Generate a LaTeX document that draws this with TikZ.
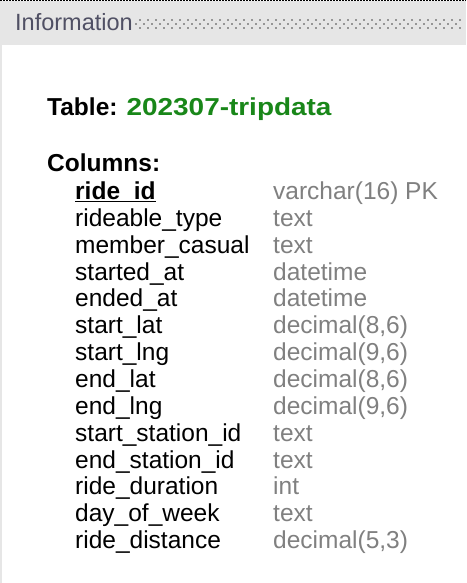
\documentclass[tikz,border=0pt]{standalone}
\usepackage{fontspec}
\setmainfont{Liberation Sans}
\usepackage{tikz}

\definecolor{bandgray}{RGB}{230,230,230}
\definecolor{dotgray}{RGB}{150,150,150}
\definecolor{headtext}{RGB}{80,80,100}
\definecolor{typegray}{RGB}{128,128,128}
\definecolor{tblgreen}{RGB}{25,135,25}

\tikzset{
  txt/.style={inner sep=0pt, anchor=base west, font=\fontsize{24.5}{27}\selectfont},
  colname/.style={txt, text=black},
  coltype/.style={txt, text=typegray},
  hdr/.style={txt, font=\bfseries\fontsize{24.5}{27}\selectfont}
}

\begin{document}
\begin{tikzpicture}[x=1pt,y=1pt,yscale=-1,xscale=1]
\useasboundingbox (0,0) rectangle (466,583);
\fill [white] (0,0) rectangle (466,583);

%Header band
\fill [bandgray] (0,1) rectangle (466,45);
\draw [line width=1, dash pattern=on 2pt off 1pt] (0,0.5) -- (466,0.5);
\draw [bandgray, line width=1.5] (0.75,45) -- (0.75,583);
\node [txt, text=headtext, font=\fontsize{23.5}{26}\selectfont] (info) at (15,31) {Information};

%Dotted grip
\foreach \k in {0,...,40} {
  \fill [dotgray] (139+8*\k,19) rectangle ++(2,2);
  \fill [dotgray] (135+8*\k,23) rectangle ++(2,2);
  \fill [dotgray] (139+8*\k,27) rectangle ++(2,2);
}

%Table name
\node [hdr] (tbl) at (47,115) {Table: \textcolor{tblgreen}{\scalebox{1.14}[1]{202307-tripdata}}};
\node [hdr] (cols) at (47,171) {Columns:};

%Key column
\node [hdr] (col1) at (75,199.5) {ride\_id};
\draw [line width=1.6] ([yshift=2pt]col1.base west) -- ([yshift=2pt]col1.base east);
\node [coltype] (typ1) at (273,199.5) {varchar(16) PK};

%Other columns
\foreach \name/\type [count=\i from 2] in {rideable\_type/text, member\_casual/text,
  started\_at/datetime, ended\_at/datetime, start\_lat/{decimal(8,6)}, start\_lng/{decimal(9,6)},
  end\_lat/{decimal(8,6)}, end\_lng/{decimal(9,6)}, start\_station\_id/text, end\_station\_id/text,
  ride\_duration/int, day\_of\_week/text, ride\_distance/{decimal(5,3)}} {
  \node [colname] (col\i) at (75,199.5+26.85*\i-26.85) {\name};
  \node [coltype] (typ\i) at (273,199.5+26.85*\i-26.85) {\type};
}

\end{tikzpicture}
\end{document}
